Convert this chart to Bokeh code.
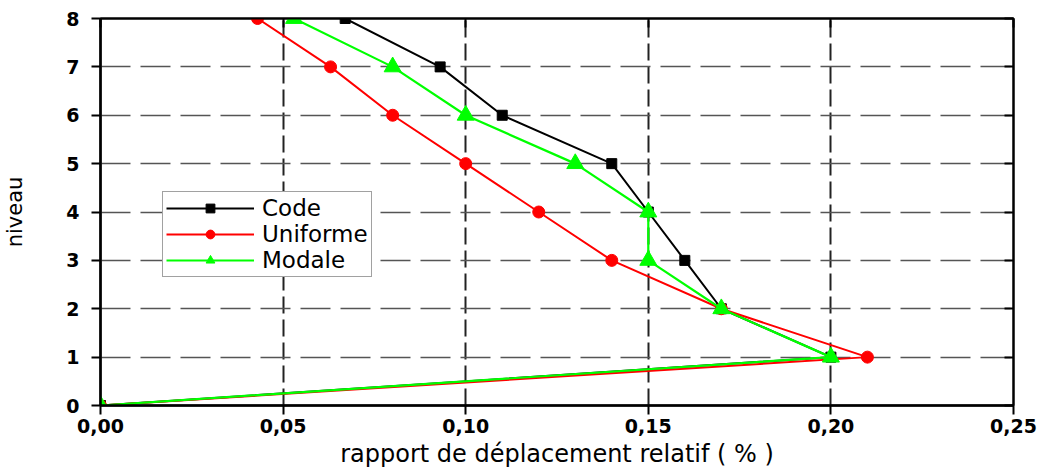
from bokeh.plotting import figure
from bokeh.models import Range1d, LinearAxis, FixedTicker, Legend, LegendItem
from bokeh.embed import file_html
from bokeh.resources import INLINE

# ---- data ----
niveau = [0, 1, 2, 3, 4, 5, 6, 7, 8]
code = [0.0, 0.20, 0.17, 0.16, 0.15, 0.14, 0.11, 0.093, 0.067]
uniforme = [0.0, 0.21, 0.17, 0.14, 0.12, 0.10, 0.08, 0.063, 0.043]
modale = [0.0, 0.20, 0.17, 0.15, 0.15, 0.13, 0.10, 0.08, 0.053]
x_ticks = [0.0, 0.05, 0.10, 0.15, 0.20, 0.25]
x_tick_labels = ["0,00", "0,05", "0,10", "0,15", "0,20", "0,25"]
y_ticks = [0, 1, 2, 3, 4, 5, 6, 7, 8]
series_names = ["Code", "Uniforme", "Modale"]

FONT = "DejaVu Sans"

p = figure(width=1052, height=472,
           x_range=Range1d(0, 0.25), y_range=Range1d(0, 8),
           output_backend="svg", toolbar_location=None,
           min_border_left=96, min_border_right=39,
           min_border_top=18, min_border_bottom=67)

p.background_fill_color = "white"
p.border_fill_color = "white"
p.outline_line_color = "black"
p.outline_line_width = 2

# axes
xa = p.xaxis[0]
xa.ticker = FixedTicker(ticks=x_ticks)
xa.major_label_overrides = {t: l for t, l in zip(x_ticks, x_tick_labels)}
ya = p.yaxis[0]
ya.ticker = FixedTicker(ticks=y_ticks)

for ax in (xa, ya):
    ax.axis_line_color = "black"
    ax.axis_line_width = 2.5
    ax.major_tick_line_color = "black"
    ax.major_tick_line_width = 2
    ax.major_tick_out = 9
    ax.major_tick_in = 0
    ax.minor_tick_line_color = None
    ax.major_label_text_font = FONT
    ax.major_label_text_font_style = "bold"
    ax.major_label_text_font_size = "19px"
    ax.major_label_text_color = "black"
    ax.axis_label_text_font = FONT
    ax.axis_label_text_font_style = "normal"
    ax.axis_label_text_color = "black"

xa.axis_label = "rapport de déplacement relatif ( % )"
xa.axis_label_text_font_size = "24px"
xa.major_label_standoff = 4
xa.axis_label_standoff = 4
ya.axis_label = "niveau"
ya.axis_label_text_font_size = "21px"
ya.major_label_standoff = 12
ya.axis_label_standoff = 36

# inward ticks on right and top
ra = LinearAxis(ticker=FixedTicker(ticks=y_ticks), major_label_text_font_size="0px",
                major_tick_in=9, major_tick_out=0, minor_tick_line_color=None,
                axis_line_color="black", axis_line_width=2, major_tick_line_width=2)
ra.major_label_text_color = None
p.add_layout(ra, "right")
ta = LinearAxis(ticker=FixedTicker(ticks=x_ticks), major_label_text_font_size="0px",
                major_tick_in=9, major_tick_out=0, minor_tick_line_color=None,
                axis_line_color="black", axis_line_width=2, major_tick_line_width=2)
ta.major_label_text_color = None
p.add_layout(ta, "above")

# grids
p.xgrid.ticker = FixedTicker(ticks=x_ticks)
p.ygrid.ticker = FixedTicker(ticks=y_ticks)
p.xgrid.grid_line_color = "#222222"
p.xgrid.grid_line_width = 2
p.xgrid.grid_line_dash = "17 6"
p.ygrid.grid_line_color = "#555555"
p.ygrid.grid_line_width = 1.5
p.ygrid.grid_line_dash = "30 10"

# series
l1 = p.line(code, niveau, line_color="black", line_width=2)
m1 = p.scatter(code, niveau, marker="square", size=10, fill_color="black", line_color="black")
l2 = p.line(uniforme, niveau, line_color="#ff0000", line_width=2)
m2 = p.scatter(uniforme, niveau, marker="circle", size=12, fill_color="#ff0000", line_color="#ff0000")
l3 = p.line(modale, niveau, line_color="#00ff00", line_width=2.2)
m3 = p.scatter(modale, niveau, marker="triangle", size=17, fill_color="#00ff00", line_color="#00ff00")

legend = Legend(items=[
    LegendItem(label=series_names[0], renderers=[l1, m1]),
    LegendItem(label=series_names[1], renderers=[l2, m2]),
    LegendItem(label=series_names[2], renderers=[l3, m3]),
], location=(62, 128))
legend.border_line_color = "#444444"
legend.border_line_width = 1.5
legend.background_fill_color = "white"
legend.background_fill_alpha = 1
legend.label_text_font = FONT
legend.label_text_font_size = "23px"
legend.label_text_color = "black"
legend.label_text_line_height = 1.0
legend.glyph_width = 88
legend.glyph_height = 22
legend.label_height = 20
legend.spacing = 0
legend.padding = 3
legend.margin = 0
legend.label_standoff = 8
p.add_layout(legend)

open("out.html", "w").write(file_html(p, INLINE))
